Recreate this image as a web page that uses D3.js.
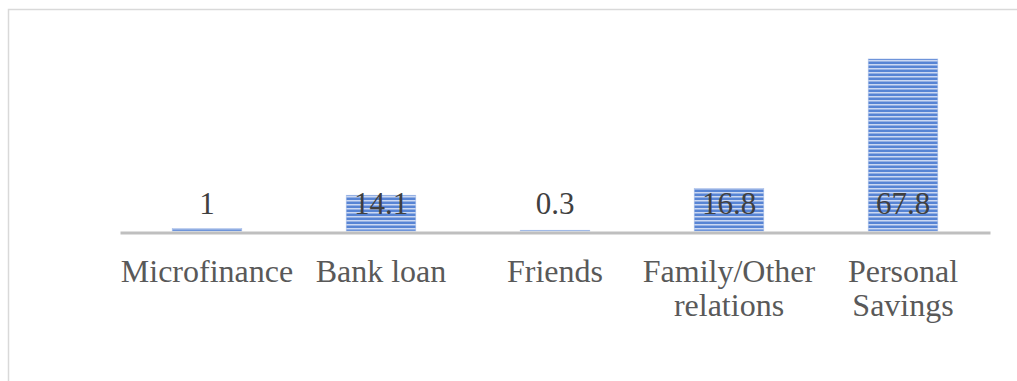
<!DOCTYPE html>
<html><head><meta charset="utf-8">
<script src="https://cdn.jsdelivr.net/npm/d3@7"></script>
<style>body{margin:0;background:#fff}svg{display:block}
text{font-family:"Liberation Serif","Times New Roman",Times,serif}</style>
</head><body>
<script>
const categories = [["Microfinance"], ["Bank loan"], ["Friends"], ["Family/Other", "relations"], ["Personal", "Savings"]];
const values = [1, 14.1, 0.3, 16.8, 67.8];
const valueLabels = ["1", "14.1", "0.3", "16.8", "67.8"];

const W = 1017, H = 381;
const svg = d3.select("body").append("svg").attr("width", W).attr("height", H);

const defs = svg.append("defs");
const pat = defs.append("pattern").attr("id", "hstripe").attr("patternUnits", "userSpaceOnUse")
  .attr("width", 8).attr("height", 4);
pat.append("rect").attr("width", 8).attr("height", 4).attr("fill", "#5784d4");
pat.append("rect").attr("y", 0).attr("width", 8).attr("height", 1).attr("fill", "#cbd8f2");
pat.append("rect").attr("y", 1).attr("width", 8).attr("height", 1).attr("fill", "#93afe3");

// chart border (cropped at right/bottom)
svg.append("rect").attr("x", 8.5).attr("y", 9.5).attr("width", 1030).attr("height", 420)
  .attr("fill", "none").attr("stroke", "#d9d9d9").attr("stroke-width", 1.5);

const x = d3.scaleBand().domain(d3.range(values.length)).range([120, 990])
  .paddingInner(0.6).paddingOuter(0.3);
const y = d3.scaleLinear().domain([0, 80]).range([231, 231 - 80 * 2.537]);

svg.selectAll("rect.bar").data(values).join("rect").attr("class", "bar")
  .attr("x", (d, i) => x(i)).attr("width", x.bandwidth())
  .attr("y", d => y(d)).attr("height", d => y(0) - y(d))
  .attr("fill", "url(#hstripe)").attr("stroke", "#a9bfe9").attr("stroke-width", 0.6);

// axis line
const axis = d3.axisBottom(x).tickSize(0).tickFormat("");
const ax = svg.append("g").attr("transform", `translate(0,${y(0) + 1.5})`).call(axis);
ax.select(".domain").attr("stroke", "#bfbfbf").attr("stroke-width", 3);

// value labels
svg.selectAll("text.val").data(values).join("text").attr("class", "val")
  .attr("x", (d, i) => x(i) + x.bandwidth() / 2).attr("y", 214)
  .attr("text-anchor", "middle")
  .attr("font-size", 31).attr("fill", "#404040")
  .text((d, i) => valueLabels[i]);

// category labels
const cat = svg.selectAll("text.cat").data(categories).join("text").attr("class", "cat")
  .attr("text-anchor", "middle")
  .attr("font-size", 32).attr("fill", "#595959");
cat.each(function (lines, i) {
  d3.select(this).selectAll("tspan").data(lines).join("tspan")
    .attr("x", x(i) + x.bandwidth() / 2)
    .attr("y", (l, j) => 282 + j * 34)
    .text(l => l);
});
</script>
</body></html>
